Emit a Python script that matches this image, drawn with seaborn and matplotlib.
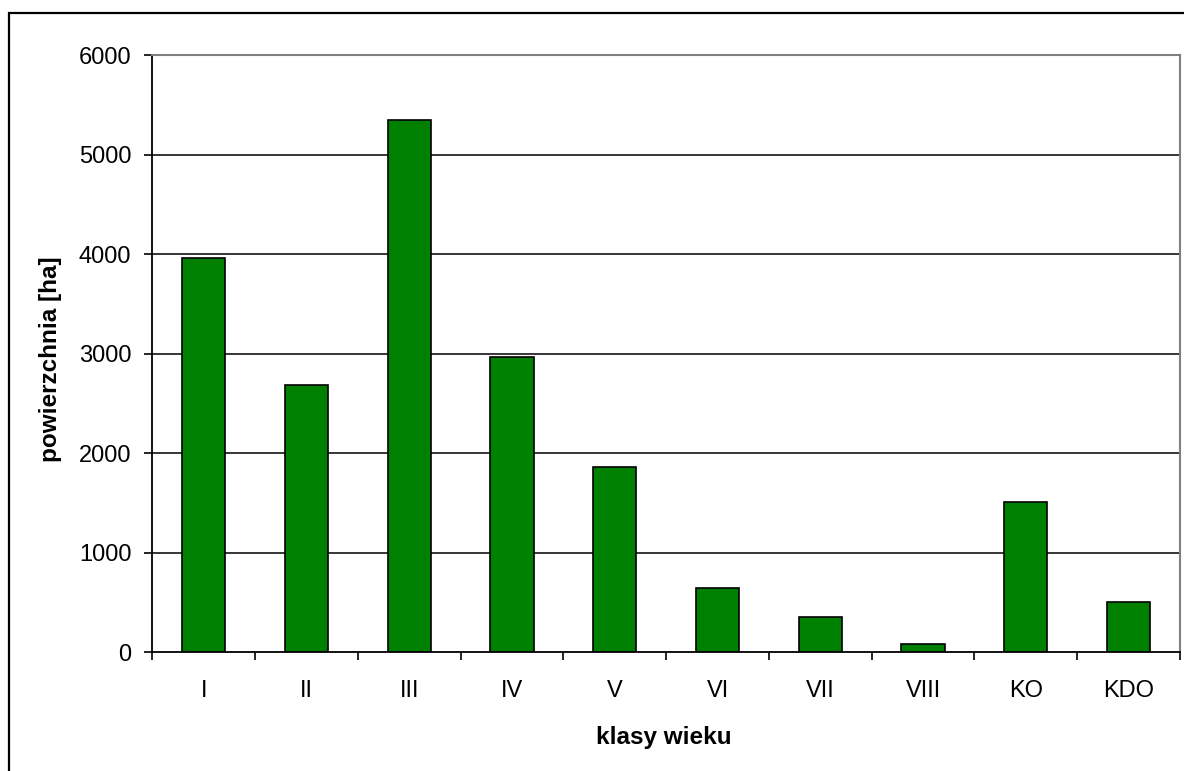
import matplotlib
matplotlib.use("Agg")
import matplotlib.pyplot as plt
from matplotlib.patches import Rectangle
from matplotlib.ticker import FixedLocator, NullFormatter
import numpy as np
import pandas as pd
import seaborn as sns

# Forest area by age class
categories = ["I", "II", "III", "IV", "V", "VI", "VII", "VIII", "KO", "KDO"]
area_ha = [3960, 2690, 5350, 2965, 1865, 650, 355, 80, 1515, 510]
y_ticks = [0, 1000, 2000, 3000, 4000, 5000, 6000]

sns.set_theme(style="white")
plt.rcParams["font.family"] = ["Liberation Sans", "DejaVu Sans"]
plt.rcParams.update({
    "text.color": "black",
    "axes.labelcolor": "black",
    "xtick.color": "black",
    "ytick.color": "black",
})

df = pd.DataFrame({"klasa": categories, "powierzchnia": area_ha})

W, H, DPI = 1184, 771, 100
fig = plt.figure(figsize=(W / DPI, H / DPI), dpi=DPI)
fig.patch.set_facecolor("white")

left, right, top, bottom = 152.3, 1180.0, 55.3, 652.3
ax = fig.add_axes([left / W, 1 - bottom / H, (right - left) / W, (bottom - top) / H])

sns.barplot(data=df, x="klasa", y="powierzchnia", order=categories,
            color="#008000", saturation=1, width=0.42,
            edgecolor="black", linewidth=1.2, ax=ax, zorder=3)

ax.set_ylim(0, 6000)
ax.set_xlim(-0.5, len(categories) - 0.5)

# horizontal gridlines
for v in y_ticks[1:-1]:
    ax.axhline(v, color="black", linewidth=1.1, zorder=1)

# spines: black axes, grey plot-area border
ax.spines["left"].set_color("black")
ax.spines["left"].set_linewidth(1.3)
ax.spines["bottom"].set_color("black")
ax.spines["bottom"].set_linewidth(1.3)
for s in ("top", "right"):
    ax.spines[s].set_color("#808080")
    ax.spines[s].set_linewidth(1.5)
for s in ax.spines.values():
    s.set_zorder(4)

ax.set_yticks(y_ticks)
ax.set_yticklabels([str(v) for v in y_ticks])
ax.tick_params(axis="y", which="major", direction="out", length=6,
               width=1.2, color="black", labelcolor="black", pad=9,
               labelsize=17, left=True)

# category labels centred, tick marks between categories
ax.set_xticks(range(len(categories)))
ax.set_xticklabels(categories)
ax.xaxis.set_minor_locator(FixedLocator(np.arange(-0.5, len(categories), 1.0)))
ax.xaxis.set_minor_formatter(NullFormatter())
ax.tick_params(axis="x", which="major", length=0, pad=20, labelsize=17,
               labelcolor="black", bottom=True)
ax.tick_params(axis="x", which="minor", direction="out", length=6, width=1.2,
               color="black", bottom=True)

ax.set_xlabel("klasy wieku", fontsize=17.5, fontweight="bold", color="black")
ax.set_ylabel("powierzchnia [ha]", fontsize=17.5, fontweight="bold", color="black")
ax.xaxis.set_label_coords(0.498, -0.124)
ax.yaxis.set_label_coords(-0.088, 0.491)

# chart area frame
fig.patches.append(Rectangle((9 / W, -0.05), 1.2, (1 - 13 / H) + 0.05,
                             transform=fig.transFigure, fill=False,
                             edgecolor="black", linewidth=1.6, zorder=0))

fig.savefig("out.png", dpi=DPI, facecolor="white")
